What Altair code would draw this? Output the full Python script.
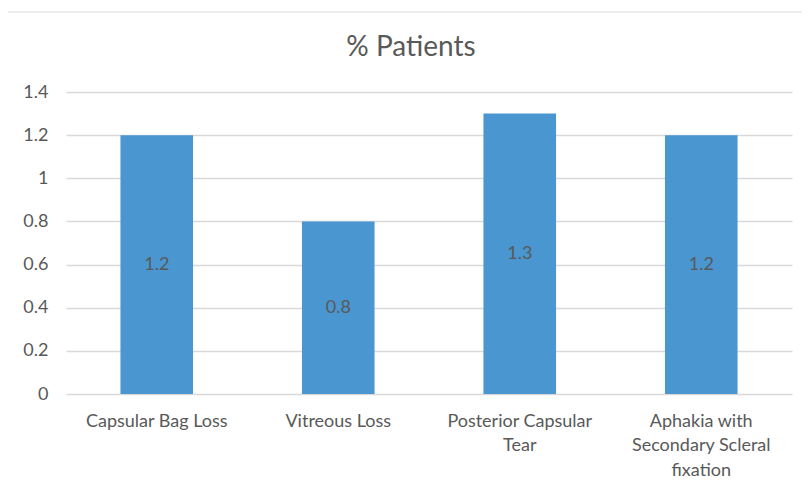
import altair as alt
import pandas as pd

categories = ["Capsular Bag Loss", "Vitreous Loss", "Posterior Capsular Tear",
              "Aphakia with Secondary Scleral fixation"]
values = [1.2, 0.8, 1.3, 1.2]
wrapped = {
    "Capsular Bag Loss": ["Capsular Bag Loss"],
    "Vitreous Loss": ["Vitreous Loss"],
    "Posterior Capsular Tear": ["Posterior Capsular", "Tear"],
    "Aphakia with Secondary Scleral fixation": ["Aphakia with", "Secondary Scleral", "fixation"],
}
y_ticks = [0, 0.2, 0.4, 0.6, 0.8, 1.0, 1.2, 1.4]

df = pd.DataFrame({"cat": categories, "val": values})
df["mid"] = df["val"] / 2

label_expr = ""
for k, v in wrapped.items():
    arr = "[" + ",".join("'" + s + "'" for s in v) + "]"
    label_expr += f"datum.label == '{k}' ? {arr} : "
label_expr += "datum.label"

FONT = "Lato"
GRAY = "#595959"

base = alt.Chart(df)

x = alt.X("cat:N", sort=categories, title=None,
          scale=alt.Scale(paddingInner=0.6, paddingOuter=0.3),
          axis=alt.Axis(labelAngle=0, labelExpr=label_expr, labelFontSize=18,
                        labelColor=GRAY, labelFont=FONT, labelLineHeight=24.5,
                        labelPadding=18, ticks=False, domain=False,
                        labelBaseline="top"))

bars = base.mark_bar(color="#4A96D1").encode(
    x=x,
    y=alt.Y("val:Q", title=None,
            scale=alt.Scale(domain=[0, 1.4], nice=False),
            axis=alt.Axis(values=y_ticks, format="~g", labelFontSize=18,
                          labelColor=GRAY, labelFont=FONT, labelPadding=18,
                          ticks=False, domain=False, gridColor="#d9d9d9",
                          gridWidth=1.3)),
)

text = base.mark_text(fontSize=18, color=GRAY, font=FONT).encode(
    x=alt.X("cat:N", sort=categories),
    y=alt.Y("mid:Q"),
    text=alt.Text("val:Q", format="~g"),
)

frame = alt.Chart(pd.DataFrame({"a": [0]})).mark_rect(
    fill=None, stroke="#d9d9d9", strokeWidth=1
).encode(x=alt.value(-61), x2=alt.value(760), y=alt.value(-80), y2=alt.value(420))

chart = alt.layer(frame, bars, text).properties(
    width=726, height=302,
    title=alt.TitleParams("% Patients", fontSize=28, font=FONT, color=GRAY,
                          fontWeight="normal", anchor="middle", dx=-18,
                          offset=0, dy=50),
    autosize=alt.AutoSizeParams(type="none"),
    padding={"left": 58, "top": 84, "right": 10, "bottom": 89},
).configure_view(stroke=None)

chart.save("out.html", embed_options={"renderer": "svg", "actions": False})
